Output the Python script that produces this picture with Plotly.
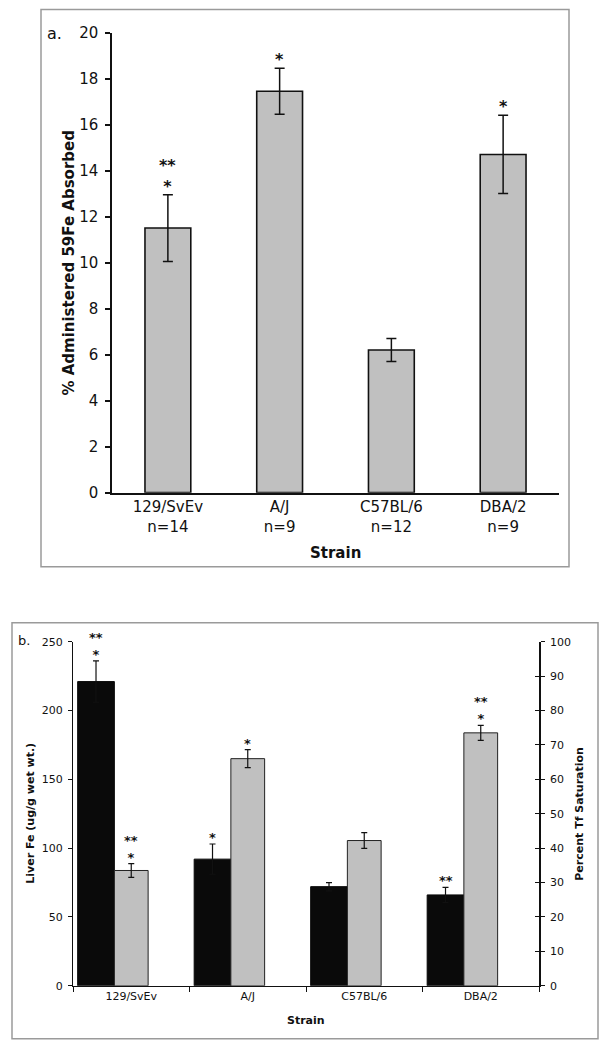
import plotly.graph_objects as go

# ---------------- data ----------------
strains = ["129/SvEv", "A/J", "C57BL/6", "DBA/2"]
n_counts = ["n=14", "n=9", "n=12", "n=9"]

absorbed = [11.5, 17.45, 6.2, 14.7]          # % administered 59Fe absorbed
absorbed_err = [1.45, 1.0, 0.5, 1.7]
absorbed_stars = ["**<br>*", "*", "", "*"]

liver_fe = [221, 92, 72, 66]                  # ug/g wet wt.
liver_fe_err = [15, 11, 3, 5.5]
liver_fe_stars = ["**<br>*", "*", "", "**"]

tf_sat = [33.5, 66, 42.2, 73.5]               # percent Tf saturation
tf_sat_err = [2.0, 2.6, 2.3, 2.2]
tf_sat_stars = ["**<br>*", "*", "", "**<br>*"]

# ---------------- layout helpers ----------------
W, H = 611, 1050
FONT = "DejaVu Sans"
# empirical vertical correction of the photographed page
SY, CY = 0.9826, 8.5


def px(x):
    return x / W


def py(y):
    return 1 - ((y - CY) / SY) / H


idx = list(range(len(strains)))
top_ticktext = [f"{s}<br>{n}" for s, n in zip(strains, n_counts)]

fig = go.Figure()

fig.add_trace(go.Bar(
    x=idx, y=absorbed, width=0.41,
    marker=dict(color="#c0c0c0", line=dict(color="#111111", width=1.6)),
    error_y=dict(type="data", array=absorbed_err, color="#111111", thickness=1.5, width=5),
    xaxis="x", yaxis="y", showlegend=False,
))

BLACK_OFF, BLACK_W = -0.46, 0.315
GRAY_OFF, GRAY_W = -0.145, 0.29
fig.add_trace(go.Bar(
    x=idx, y=liver_fe, offset=BLACK_OFF, width=BLACK_W,
    marker=dict(color="#0a0a0a", line=dict(color="#0a0a0a", width=1)),
    error_y=dict(type="data", array=liver_fe_err, color="#111111", thickness=1.2, width=3),
    xaxis="x2", yaxis="y2", showlegend=False,
))
fig.add_trace(go.Bar(
    x=idx, y=tf_sat, offset=GRAY_OFF, width=GRAY_W,
    marker=dict(color="#c0c0c0", line=dict(color="#222222", width=1)),
    error_y=dict(type="data", array=tf_sat_err, color="#111111", thickness=1.2, width=3),
    xaxis="x2", yaxis="y3", showlegend=False,
))

annotations = []


def add_stars(labels, vals, errs, xpos, xref, yref, size, shift):
    for lab, v, e, x in zip(labels, vals, errs, xpos):
        if not lab:
            continue
        annotations.append(dict(
            x=x, y=v + e, xref=xref, yref=yref, text=lab, showarrow=False,
            yanchor="bottom", xanchor="center", yshift=shift, borderpad=0,
            font=dict(family=FONT, size=size, color="#111111", weight="bold"),
        ))


add_stars(absorbed_stars, absorbed, absorbed_err, idx, "x", "y", 16, -2)
add_stars(liver_fe_stars, liver_fe, liver_fe_err,
          [i + BLACK_OFF + BLACK_W / 2 for i in idx], "x2", "y2", 13, -2)
add_stars(tf_sat_stars, tf_sat, tf_sat_err,
          [i + GRAY_OFF + GRAY_W / 2 for i in idx], "x2", "y3", 13, -2)

annotations += [
    dict(x=px(45), y=py(33), xref="paper", yref="paper", text="a.", showarrow=False,
         xanchor="left", yanchor="middle", font=dict(family=FONT, size=16, color="#111")),
    dict(x=px(69), y=py(262), xref="paper", yref="paper", text="% Administered 59Fe Absorbed",
         showarrow=False, textangle=-90, xanchor="center", yanchor="middle",
         font=dict(family=FONT, size=15, color="#111", weight="bold")),
    dict(x=px(335), y=py(552), xref="paper", yref="paper", text="Strain", showarrow=False,
         xanchor="center", yanchor="middle",
         font=dict(family=FONT, size=15, color="#111", weight="bold")),
    dict(x=px(16), y=py(640), xref="paper", yref="paper", text="b.", showarrow=False,
         xanchor="left", yanchor="middle", font=dict(family=FONT, size=13, color="#111")),
    dict(x=px(31), y=py(813), xref="paper", yref="paper", text="Liver Fe (ug/g wet wt.)",
         showarrow=False, textangle=-90, xanchor="center", yanchor="middle",
         font=dict(family=FONT, size=11, color="#111", weight="bold")),
    dict(x=px(580), y=py(813), xref="paper", yref="paper", text="Percent Tf Saturation",
         showarrow=False, textangle=-90, xanchor="center", yanchor="middle",
         font=dict(family=FONT, size=11, color="#111", weight="bold")),
    dict(x=px(306), y=py(1020), xref="paper", yref="paper", text="Strain", showarrow=False,
         xanchor="center", yanchor="middle",
         font=dict(family=FONT, size=11, color="#111", weight="bold")),
]

shapes = [
    dict(type="rect", xref="paper", yref="paper", x0=px(41), x1=px(569), y0=py(566), y1=py(9),
         line=dict(color="#9a9a9a", width=1.5)),
    dict(type="rect", xref="paper", yref="paper", x0=px(12), x1=px(598), y0=py(1038), y1=py(622),
         line=dict(color="#9a9a9a", width=1.5)),
]

fig.update_layout(
    width=W, height=H, margin=dict(l=0, r=0, t=0, b=0),
    paper_bgcolor="white", plot_bgcolor="rgba(0,0,0,0)",
    barmode="overlay", showlegend=False,
    font=dict(family=FONT, color="#111111"),
    annotations=annotations, shapes=shapes,
    xaxis=dict(domain=[px(112), px(559)], anchor="y", range=[-0.5, 3.5],
               tickmode="array", tickvals=idx, ticktext=top_ticktext,
               showline=True, linecolor="#111", linewidth=1.5, ticks="",
               showgrid=False, zeroline=False, tickfont=dict(size=15)),
    yaxis=dict(domain=[py(492), py(32)], anchor="x", range=[0, 20], dtick=2,
               showline=True, linecolor="#111", linewidth=1.5, ticks="outside",
               ticklen=5, tickcolor="#111", tickwidth=1.5, showgrid=False, zeroline=False,
               tickfont=dict(size=15), ticklabelstandoff=4),
    xaxis2=dict(domain=[px(73), px(539)], anchor="y2", range=[-0.5, 3.5],
                tickmode="array", tickvals=idx, ticktext=strains,
                showline=True, linecolor="#111", linewidth=1.2, ticks="",
                minor=dict(tickmode="linear", tick0=-0.5, dtick=1, ticks="outside",
                           ticklen=5, tickcolor="#111", tickwidth=1.2),
                showgrid=False, zeroline=False, tickfont=dict(size=11)),
    yaxis2=dict(domain=[py(985), py(641)], anchor="x2", range=[0, 250], dtick=50,
                showline=True, linecolor="#111", linewidth=1.2, ticks="outside",
                ticklen=4, tickcolor="#111", tickwidth=1.2, showgrid=False, zeroline=False,
                tickfont=dict(size=11), ticklabelstandoff=3),
    yaxis3=dict(domain=[py(985), py(641)], anchor="x2", overlaying="y2", side="right",
                range=[0, 100], dtick=10,
                showline=True, linecolor="#111", linewidth=1.5, ticks="outside",
                ticklen=4, tickcolor="#111", tickwidth=1.2, showgrid=False, zeroline=False,
                tickfont=dict(size=11), ticklabelstandoff=3),
    yaxis4=dict(domain=[py(985), py(641)], anchor="x2", overlaying="y2", side="right",
                range=[0, 100], dtick=10, showticklabels=False,
                showline=False, ticks="inside", ticklen=4, tickcolor="#111", tickwidth=1.2,
                showgrid=False, zeroline=False),
)

fig.add_trace(go.Scatter(x=[None], y=[None], xaxis="x2", yaxis="y4", showlegend=False,
                         hoverinfo="skip"))

# remove the default page margin so the figure fills the window
fig.write_html("out.html", config={"displayModeBar": False},
               post_script="document.body.style.margin='0';")
